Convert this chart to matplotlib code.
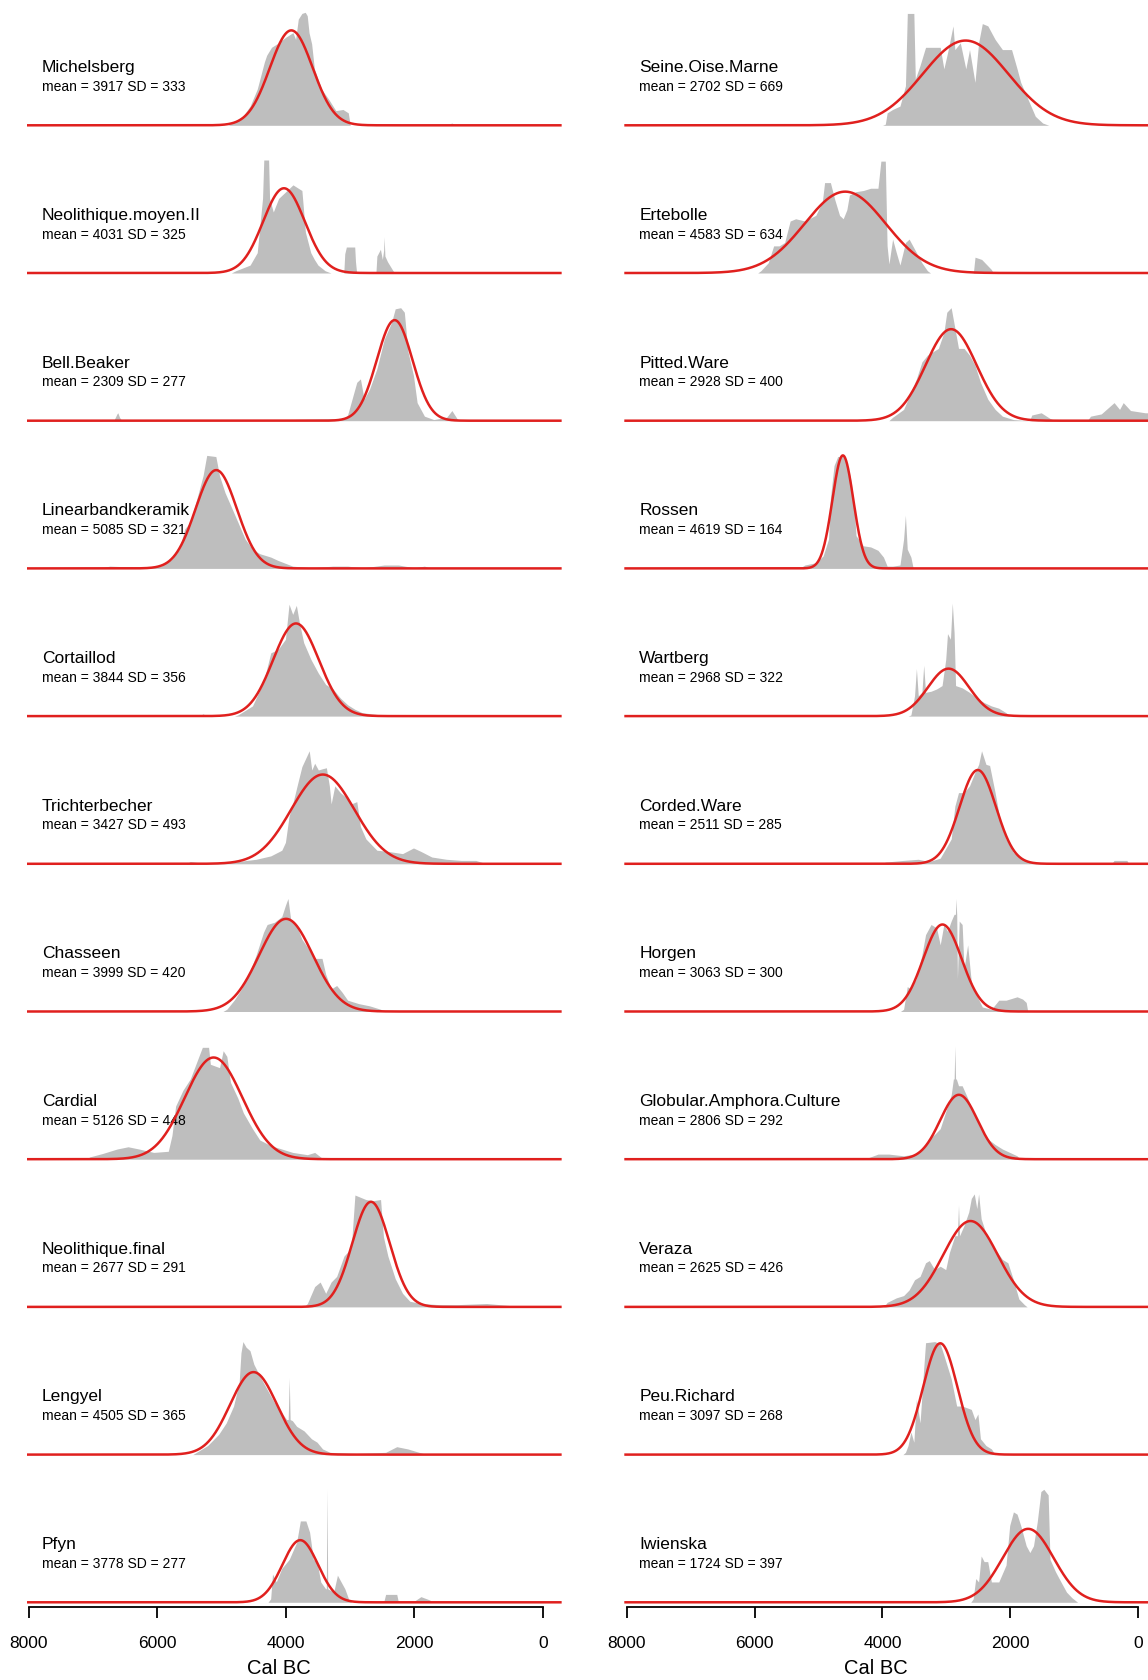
import numpy as np
import matplotlib.pyplot as plt

plt.rcParams['font.family'] = ['Liberation Sans', 'DejaVu Sans']

# Kulturer i vänster och höger kolumn, uppifrån och ned
left_names = ['Michelsberg', 'Neolithique.moyen.II', 'Bell.Beaker', 'Linearbandkeramik',
              'Cortaillod', 'Trichterbecher', 'Chasseen', 'Cardial',
              'Neolithique.final', 'Lengyel', 'Pfyn']
left_means = [3917, 4031, 2309, 5085, 3844, 3427, 3999, 5126, 2677, 4505, 3778]
left_sds = [333, 325, 277, 321, 356, 493, 420, 448, 291, 365, 277]
# normalkurvans topp, relativt panelens max
left_peaks = [0.84, 0.75, 0.89, 0.87, 0.82, 0.79, 0.82, 0.90, 0.93, 0.73, 0.55]

right_names = ['Seine.Oise.Marne', 'Ertebolle', 'Pitted.Ware', 'Rossen', 'Wartberg',
               'Corded.Ware', 'Horgen', 'Globular.Amphora.Culture', 'Veraza',
               'Peu.Richard', 'Iwienska']
right_means = [2702, 4583, 2928, 4619, 2968, 2511, 3063, 2806, 2625, 3097, 1724]
right_sds = [669, 634, 400, 164, 322, 285, 300, 292, 426, 268, 397]
right_peaks = [0.75, 0.72, 0.81, 1.0, 0.42, 0.83, 0.77, 0.57, 0.76, 0.985, 0.65]

# Summerade sannolikhetsfördelningar (grå), avlästa: år f.Kr. och relativ höjd
michelsberg_x = [4900, 4836, 4670, 4558, 4447, 4336, 4300, 4225, 4114, 4002, 3891, 3850, 3808, 3752,
                 3700, 3669, 3641, 3600, 3558, 3446, 3335, 3224, 3113, 3030, 3000, 1500, 1420, 1350]
michelsberg_y = [0, 0.02, 0.08, 0.17, 0.32, 0.56, 0.62, 0.69, 0.73, 0.78, 0.82, 0.76, 0.94, 0.99,
                 1.0, 0.97, 0.82, 0.72, 0.5, 0.32, 0.23, 0.13, 0.14, 0.11, 0, 0, 0.02, 0]

neomoyen_x = [4850, 4781, 4558, 4447, 4364, 4345, 4336, 4270, 4255, 4197, 4114, 4002, 3891, 3808,
              3752, 3697, 3614, 3558, 3502, 3391, 3300, 3100, 3085, 3060, 2930, 2918, 2900, 2600,
              2585, 2530, 2500, 2480, 2473, 2460, 2420, 2334, 2300]
neomoyen_y = [0, 0.02, 0.07, 0.18, 0.66, 1.0, 1.0, 1.0, 0.66, 0.54, 0.66, 0.72, 0.78, 0.75,
              0.73, 0.36, 0.18, 0.12, 0.07, 0.02, 0, 0, 0.17, 0.23, 0.23, 0.1, 0, 0,
              0.15, 0.21, 0.12, 0.2, 0.32, 0.15, 0.1, 0.02, 0]

bellbeaker_x = [6680, 6630, 6616, 6590, 6560, 5500, 4000, 3100, 3041, 2898, 2841, 2784, 2699, 2585,
                2471, 2357, 2300, 2215, 2158, 2101, 2016, 1959, 1902, 1845, 1700, 1500, 1418, 1340, 1300]
bellbeaker_y = [0, 0.06, 0.07, 0.03, 0.005, 0.01, 0.01, 0.02, 0.05, 0.34, 0.37, 0.19, 0.28, 0.46,
                0.72, 0.87, 0.99, 1.0, 0.96, 0.61, 0.40, 0.16, 0.10, 0.04, 0.01, 0.03, 0.09, 0.02, 0]

lbk_x = [6900, 6742, 6300, 5944, 5774, 5660, 5574, 5489, 5375, 5290, 5233, 5091, 5034, 4948, 4863,
         4749, 4635, 4521, 4407, 4236, 4122, 3895, 3600, 3270, 3040, 2800, 2470, 2250, 2000, 1845, 1750]
lbk_y = [0, 0.02, 0.01, 0.02, 0.08, 0.17, 0.35, 0.41, 0.64, 0.82, 1.0, 0.99, 0.82, 0.67, 0.56,
         0.41, 0.26, 0.17, 0.13, 0.10, 0.07, 0.02, 0.005, 0.02, 0.02, 0.005, 0.03, 0.03, 0.005, 0.02, 0]

cortaillod_x = [5350, 5290, 5230, 4800, 4749, 4521, 4350, 4236, 4122, 4008, 3952, 3895, 3838, 3792,
                3724, 3610, 3496, 3382, 3268, 3154, 3040, 2927, 2813, 2528, 2450]
cortaillod_y = [0, 0.02, 0, 0, 0.01, 0.09, 0.30, 0.56, 0.59, 0.68, 0.99, 0.9, 0.98, 0.83,
                0.65, 0.5, 0.38, 0.28, 0.24, 0.16, 0.10, 0.06, 0.03, 0.01, 0]

tricht_x = [5550, 5489, 5300, 5033, 4749, 4464, 4236, 4065, 4008, 3952, 3895, 3809, 3752, 3695,
            3638, 3598, 3553, 3496, 3439, 3371, 3325, 3297, 3240, 3154, 3069, 2984, 2898, 2841,
            2756, 2585, 2414, 2186, 2016, 1902, 1731, 1503, 1275, 1048, 877]
tricht_y = [0, 0.02, 0.005, 0.01, 0.02, 0.04, 0.07, 0.12, 0.19, 0.42, 0.53, 0.73, 0.86, 0.93,
            1.0, 0.83, 0.89, 0.83, 0.84, 0.85, 0.69, 0.53, 0.69, 0.63, 0.59, 0.53, 0.55, 0.33,
            0.22, 0.12, 0.11, 0.09, 0.14, 0.11, 0.06, 0.04, 0.03, 0.03, 0]

chasseen_x = [4980, 4920, 4806, 4692, 4578, 4464, 4350, 4293, 4179, 4065, 4008, 3969, 3923, 3838,
              3752, 3667, 3553, 3439, 3382, 3297, 3211, 3126, 3040, 2870, 2699, 2528, 2480]
chasseen_y = [0, 0.02, 0.10, 0.20, 0.33, 0.50, 0.70, 0.77, 0.79, 0.84, 0.94, 1.0, 0.80, 0.77,
              0.64, 0.57, 0.47, 0.47, 0.33, 0.20, 0.23, 0.17, 0.10, 0.07, 0.05, 0.02, 0]

cardial_x = [7100, 7055, 6856, 6628, 6457, 6286, 6058, 5831, 5774, 5717, 5603, 5489, 5375, 5301,
             5204, 5176, 5033, 4977, 4920, 4863, 4749, 4663, 4521, 4407, 4236, 4065, 3895, 3667,
             3553, 3439, 3325, 2927, 2880]
cardial_y = [0, 0.02, 0.05, 0.09, 0.11, 0.09, 0.06, 0.07, 0.21, 0.47, 0.61, 0.71, 0.88, 0.99,
             0.99, 0.84, 0.81, 0.96, 0.91, 0.68, 0.54, 0.41, 0.27, 0.17, 0.12, 0.09, 0.06, 0.04,
             0.06, 0.01, 0.015, 0.015, 0]

neofinal_x = [3720, 3667, 3553, 3468, 3382, 3297, 3211, 3097, 2984, 2927, 2841, 2756, 2642, 2528,
              2483, 2414, 2300, 2186, 2073, 1902, 1617, 1332, 877, 478, 420]
neofinal_y = [0, 0.03, 0.18, 0.22, 0.12, 0.22, 0.27, 0.45, 0.52, 0.99, 0.97, 0.95, 0.94, 0.95,
              0.62, 0.45, 0.25, 0.12, 0.05, 0.03, 0.02, 0.02, 0.03, 0.01, 0]

lengyel_x = [5450, 5392, 5219, 5046, 4930, 4815, 4728, 4700, 4670, 4620, 4560, 4500, 4411, 4296,
             4180, 4065, 3990, 3965, 3949, 3935, 3900, 3834, 3719, 3603, 3517, 3430, 3315, 2911,
             2449, 2276, 2103, 1930, 1800]
lengyel_y = [0, 0.02, 0.08, 0.18, 0.28, 0.43, 0.64, 0.9, 1.0, 0.95, 0.92, 0.8, 0.70, 0.58,
             0.46, 0.37, 0.31, 0.31, 0.68, 0.31, 0.30, 0.25, 0.21, 0.14, 0.11, 0.05, 0.02, 0.01,
             0.02, 0.07, 0.05, 0.02, 0]

pfyn_x = [4280, 4238, 4209, 4151, 4065, 3949, 3834, 3776, 3690, 3632, 3574, 3517, 3459, 3384,
          3372, 3361, 3350, 3257, 3199, 3142, 3084, 3026, 2980, 2480, 2449, 2276, 2250, 2030,
          1900, 1760, 1740]
pfyn_y = [0, 0.03, 0.25, 0.18, 0.30, 0.38, 0.53, 0.72, 0.72, 0.62, 0.38, 0.36, 0.18, 0.12,
          0.12, 1.0, 0.12, 0.09, 0.24, 0.18, 0.12, 0.03, 0, 0, 0.07, 0.07, 0, 0,
          0.05, 0.02, 0]

som_x = [4000, 3956, 3927, 3842, 3727, 3641, 3612, 3510, 3487, 3413, 3327, 3212, 3098, 3041,
         2984, 2898, 2869, 2784, 2698, 2640, 2555, 2498, 2440, 2354, 2240, 2126, 1983, 1897,
         1840, 1726, 1612, 1497, 1400]
som_y = [0, 0.01, 0.11, 0.14, 0.17, 0.35, 0.99, 0.99, 0.41, 0.53, 0.69, 0.69, 0.69, 0.50,
         0.64, 0.88, 0.67, 0.73, 0.50, 0.67, 0.38, 0.73, 0.90, 0.88, 0.76, 0.67, 0.67, 0.50,
         0.38, 0.23, 0.08, 0.02, 0]

ertebolle_x = [5950, 5901, 5786, 5701, 5615, 5529, 5443, 5357, 5214, 5043, 4940, 4905, 4814, 4746,
               4671, 4614, 4557, 4517, 4414, 4299, 4185, 4071, 4025, 3956, 3928, 3899, 3842, 3784,
               3727, 3641, 3584, 3498, 3384, 3298, 3250, 2580, 2554, 2450, 2297, 2270]
ertebolle_y = [0, 0.02, 0.09, 0.24, 0.24, 0.27, 0.46, 0.48, 0.46, 0.51, 0.63, 0.80, 0.80, 0.65,
               0.51, 0.48, 0.56, 0.69, 0.72, 0.73, 0.75, 0.75, 0.99, 0.99, 0.24, 0.08, 0.30, 0.18,
               0.07, 0.27, 0.30, 0.21, 0.09, 0.02, 0, 0, 0.14, 0.12, 0.03, 0]

pitted_x = [3900, 3842, 3670, 3556, 3470, 3384, 3298, 3212, 3127, 3041, 2995, 2927, 2869, 2812,
            2726, 2640, 2554, 2469, 2354, 2240, 2126, 1954, 1700, 1668, 1520, 1382, 1300, 800,
            749, 581, 381, 295, 238, 124, -105, -290]
pitted_y = [0, 0.03, 0.10, 0.25, 0.37, 0.52, 0.58, 0.61, 0.64, 0.78, 0.96, 1.0, 0.82, 0.64,
            0.64, 0.58, 0.49, 0.34, 0.19, 0.10, 0.04, 0.01, 0, 0.05, 0.07, 0.02, 0, 0,
            0.04, 0.06, 0.16, 0.10, 0.16, 0.09, 0.07, 0.07]

rossen_x = [5300, 5214, 5043, 4928, 4843, 4814, 4757, 4700, 4586, 4500, 4443, 4414, 4300, 4185,
            4071, 3985, 3927, 3842, 3727, 3670, 3642, 3613, 3556, 3520]
rossen_y = [0, 0.03, 0.05, 0.11, 0.26, 0.62, 0.91, 0.99, 0.99, 0.80, 0.56, 0.29, 0.20, 0.19,
            0.16, 0.10, 0.02, 0.02, 0.03, 0.26, 0.47, 0.17, 0.10, 0]

wartberg_x = [3600, 3556, 3499, 3470, 3441, 3384, 3356, 3327, 3241, 3155, 3069, 3012, 2984, 2938,
              2909, 2881, 2858, 2755, 2641, 2527, 2412, 2298, 2184, 2069, 2010]
wartberg_y = [0, 0.01, 0.18, 0.42, 0.18, 0.21, 0.45, 0.21, 0.22, 0.24, 0.27, 0.50, 0.73, 0.68,
              1.0, 0.74, 0.27, 0.25, 0.21, 0.16, 0.12, 0.09, 0.07, 0.03, 0]

corded_x = [4000, 3956, 3670, 3441, 3270, 3098, 2926, 2869, 2812, 2726, 2640, 2554, 2497, 2452,
            2383, 2326, 2240, 2154, 2069, 1954, 1840, 1725, 1610, 1450, 420, 381, 181, 150]
corded_y = [0, 0.015, 0.03, 0.04, 0.02, 0.05, 0.22, 0.51, 0.63, 0.63, 0.69, 0.81, 0.88, 1.0,
            0.88, 0.87, 0.63, 0.36, 0.22, 0.10, 0.05, 0.02, 0.01, 0, 0, 0.03, 0.03, 0]

horgen_x = [3720, 3670, 3613, 3556, 3470, 3384, 3327, 3241, 3155, 3098, 3041, 2984, 2927, 2881,
            2860, 2852, 2840, 2829, 2801, 2755, 2726, 2669, 2612, 2526, 2440, 2297, 2183, 2069,
            1897, 1811, 1754, 1730]
horgen_y = [0, 0.02, 0.22, 0.20, 0.29, 0.50, 0.68, 0.77, 0.74, 0.59, 0.77, 0.71, 0.80, 0.86,
            0.86, 1.0, 0.86, 0.29, 0.80, 0.77, 0.38, 0.59, 0.26, 0.14, 0.04, 0.02, 0.10, 0.10,
            0.13, 0.11, 0.08, 0]

globular_x = [4260, 4213, 4070, 3899, 3670, 3499, 3384, 3270, 3184, 3098, 3012, 2926, 2892, 2880,
              2869, 2858, 2846, 2812, 2755, 2669, 2583, 2469, 2355, 2240, 2126, 2011, 1897, 1850]
globular_y = [0, 0.015, 0.045, 0.045, 0.03, 0.045, 0.09, 0.18, 0.22, 0.27, 0.42, 0.57, 0.71, 0.71,
              1.0, 0.71, 0.71, 0.65, 0.65, 0.54, 0.42, 0.27, 0.18, 0.13, 0.09, 0.06, 0.03, 0]

veraza_x = [3980, 3927, 3784, 3670, 3584, 3499, 3413, 3327, 3270, 3184, 3098, 3012, 2955, 2869,
            2830, 2812, 2795, 2726, 2652, 2612, 2566, 2526, 2498, 2458, 2354, 2240, 2126, 2040,
            1954, 1869, 1783, 1740]
veraza_y = [0, 0.04, 0.08, 0.10, 0.15, 0.24, 0.27, 0.39, 0.41, 0.33, 0.36, 0.33, 0.48, 0.63,
            0.63, 0.90, 0.63, 0.72, 0.84, 0.96, 1.0, 0.87, 1.0, 0.78, 0.60, 0.51, 0.42, 0.39,
            0.24, 0.07, 0.02, 0]

peurichard_x = [3680, 3641, 3601, 3556, 3510, 3470, 3413, 3356, 3327, 3184, 3098, 3041, 2926, 2841,
                2755, 2612, 2555, 2509, 2469, 2383, 2298, 2240]
peurichard_y = [0, 0.02, 0.08, 0.20, 0.11, 0.49, 0.28, 0.76, 0.99, 1.0, 0.98, 0.88, 0.67, 0.43,
                0.43, 0.40, 0.31, 0.36, 0.14, 0.08, 0.05, 0]

iwienska_x = [2620, 2583, 2543, 2498, 2458, 2412, 2355, 2298, 2183, 2069, 2012, 1954, 1897, 1840,
              1754, 1697, 1640, 1582, 1525, 1479, 1411, 1382, 1296, 1211, 1124, 1039, 950]
iwienska_y = [0, 0.03, 0.21, 0.18, 0.41, 0.36, 0.36, 0.18, 0.18, 0.33, 0.68, 0.80, 0.78, 0.68,
              0.50, 0.44, 0.50, 0.71, 0.98, 1.0, 0.95, 0.38, 0.27, 0.18, 0.09, 0.04, 0]

left_spd = [(michelsberg_x, michelsberg_y), (neomoyen_x, neomoyen_y), (bellbeaker_x, bellbeaker_y),
            (lbk_x, lbk_y), (cortaillod_x, cortaillod_y), (tricht_x, tricht_y),
            (chasseen_x, chasseen_y), (cardial_x, cardial_y), (neofinal_x, neofinal_y),
            (lengyel_x, lengyel_y), (pfyn_x, pfyn_y)]
right_spd = [(som_x, som_y), (ertebolle_x, ertebolle_y), (pitted_x, pitted_y), (rossen_x, rossen_y),
             (wartberg_x, wartberg_y), (corded_x, corded_y), (horgen_x, horgen_y),
             (globular_x, globular_y), (veraza_x, veraza_y), (peurichard_x, peurichard_y),
             (iwienska_x, iwienska_y)]

xticks = [8000, 6000, 4000, 2000, 0]

# Figurens mått i pixlar
W, H = 1148.0, 1680.0
fig = plt.figure(figsize=(W / 100, H / 100), dpi=100)

x_lo, x_hi = 8035, -290
col_left = [26.65, 624.3]
col_width = [535.0, 532.7]
unit = 113.0          # pixlar för relativ höjd 1
row0, row_step = 125.3, 147.7

grey = '#BEBEBE'
red = '#E0201E'
xs = np.linspace(x_lo, x_hi, 3000)

columns = [(left_names, left_means, left_sds, left_peaks, left_spd),
           (right_names, right_means, right_sds, right_peaks, right_spd)]

for c, (names, means, sds, peaks, spd) in enumerate(columns):
    for i in range(len(names)):
        base = row0 + row_step * i
        bottom = base + 0.04 * unit
        ax = fig.add_axes([col_left[c] / W, 1 - bottom / H, col_width[c] / W, 1.08 * unit / H])
        ax.set_xlim(x_lo, x_hi)
        ax.set_ylim(-0.04, 1.04)

        gx, gy = spd[i]
        ax.fill_between(gx, gy, 0, color=grey, linewidth=0, zorder=1)

        ys = peaks[i] * np.exp(-0.5 * ((xs - means[i]) / sds[i]) ** 2)
        ax.plot(xs, ys, color=red, lw=1.8, zorder=3, solid_capstyle='butt')

        ax.text(7800, 0.51, names[i], fontsize=12.5, ha='left', va='center', zorder=2)
        ax.text(7800, 0.34, f'mean = {means[i]} SD = {sds[i]}', fontsize=10,
                ha='left', va='center', zorder=2)

        for s in ['top', 'right', 'left']:
            ax.spines[s].set_visible(False)
        ax.set_yticks([])
        if i == len(names) - 1:
            ax.spines['bottom'].set_bounds(0, 8000)
            ax.spines['bottom'].set_linewidth(1.3)
            ax.set_xticks(xticks)
            ax.set_xticklabels([str(t) for t in xticks])
            ax.tick_params(axis='x', length=7.7, width=1.3, pad=13.5, labelsize=12.5)
        else:
            ax.spines['bottom'].set_visible(False)
            ax.set_xticks([])

fig.text(278.5 / W, 1 - 1669 / H, 'Cal BC', ha='center', va='center', fontsize=14.5)
fig.text(876.0 / W, 1 - 1669 / H, 'Cal BC', ha='center', va='center', fontsize=14.5)

fig.savefig('out.png', dpi=100)
